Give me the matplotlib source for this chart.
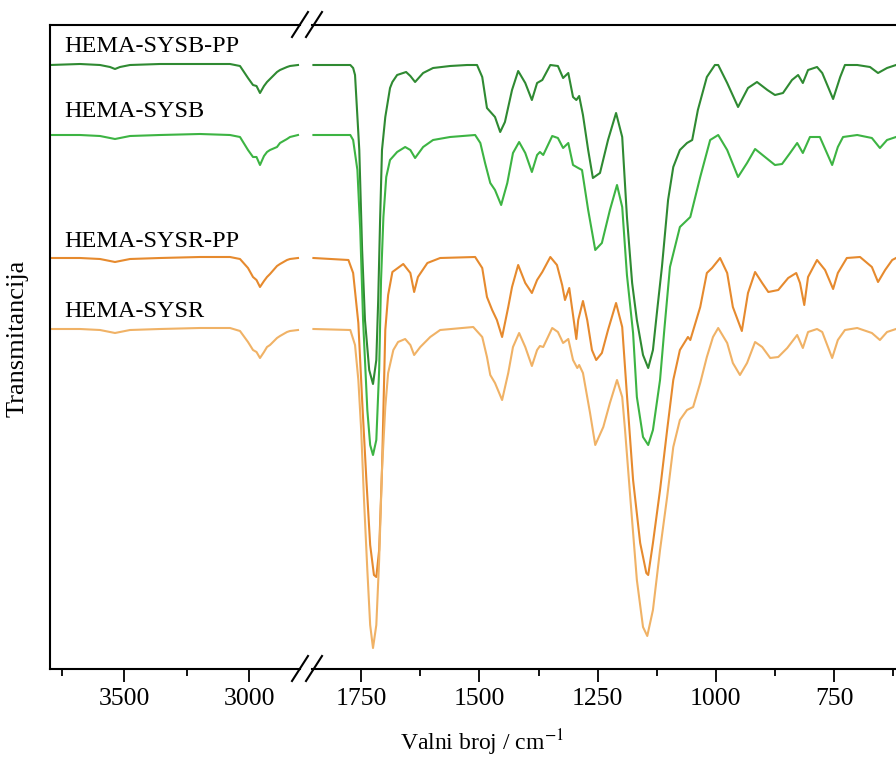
import matplotlib
matplotlib.use('Agg')
import matplotlib.pyplot as plt
from matplotlib.ticker import MultipleLocator
from matplotlib.lines import Line2D

plt.rcParams['font.family'] = ['Liberation Serif', 'DejaVu Serif']
plt.rcParams['mathtext.fontset'] = 'stix'

# --- data (wavenumber in cm-1, transmittance in arbitrary offset units) ---
# high-wavenumber region, shared grid
wn_high = [3796, 3676, 3596, 3556, 3536, 3516, 3476, 3356, 3196, 3076, 3036,
           3004, 2984, 2970, 2956, 2940, 2928, 2916, 2888, 2876, 2848, 2836, 2804]
sysb_pp_high = [604, 605, 604, 602, 600, 602, 604, 605, 605, 605, 603,
                591, 584, 583, 576, 583, 587, 590, 597, 599, 602, 603, 604]
sysb_high = [534, 534, 533, 531, 530, 531, 533, 534, 535, 534, 532,
             519, 512, 512, 504, 513, 517, 519, 522, 526, 530, 532, 534]
sysr_pp_high = [411, 411, 410, 408, 407, 408, 410, 411, 412, 412, 410,
                401, 392, 389, 382, 388, 392, 395, 403, 405, 409, 410, 411]
sysr_high = [340, 340, 339, 337, 336, 337, 339, 340, 341, 341, 338,
             327, 319, 317, 311, 317, 322, 324, 331, 333, 337, 338, 339]

# fingerprint region
wn_sysb_pp = [1851, 1773, 1767, 1763, 1754, 1748, 1742, 1733, 1725, 1718, 1714,
              1710, 1706, 1699, 1689, 1684, 1674, 1655, 1646, 1636, 1619, 1598,
              1562, 1526, 1505, 1494, 1484, 1467, 1456, 1446, 1431, 1418, 1403,
              1389, 1378, 1367, 1350, 1334, 1323, 1312, 1302, 1295, 1289, 1281,
              1270, 1260, 1245, 1228, 1211, 1198, 1188, 1177, 1167, 1154, 1143,
              1133, 1124, 1114, 1101, 1090, 1076, 1061, 1050, 1038, 1019, 1002,
              995, 976, 953, 932, 913, 891, 875, 858, 839, 826, 816, 805, 786,
              775, 752, 737, 727, 701, 674, 657, 638, 619]
sysb_pp_low = [604, 604, 601, 594, 519, 419, 349, 299, 285, 309, 369,
               449, 519, 552, 581, 587, 594, 597, 593, 587, 596, 601,
               603, 604, 604, 592, 561, 552, 537, 547, 579, 598, 586,
               569, 586, 589, 604, 603, 591, 596, 572, 569, 573, 554,
               519, 491, 496, 529, 556, 532, 452, 386, 349, 314, 301,
               319, 359, 402, 469, 502, 519, 526, 529, 559, 592, 604,
               604, 586, 562, 581, 587, 579, 574, 576, 589, 594, 586, 599, 602,
               596, 570, 592, 604, 604, 602, 596, 601, 604]

wn_sysb = [1851, 1773, 1767, 1758, 1752, 1746, 1737, 1731, 1725, 1718, 1712,
           1708, 1703, 1697, 1689, 1674, 1657, 1646, 1636, 1619, 1598, 1562,
           1509, 1498, 1488, 1477, 1467, 1454, 1441, 1429, 1416, 1403, 1389,
           1378, 1372, 1365, 1346, 1334, 1323, 1312, 1302, 1291, 1283, 1270,
           1255, 1241, 1224, 1209, 1198, 1188, 1175, 1167, 1154, 1143, 1133,
           1118, 1109, 1097, 1076, 1054, 1033, 1012, 995, 976, 953, 934, 917,
           896, 875, 860, 843, 828, 816, 801, 780, 754, 742, 731, 701, 670,
           653, 638, 619]
sysb_low = [534, 534, 529, 499, 439, 349, 259, 224, 214, 229, 299,
            389, 452, 492, 509, 517, 522, 519, 511, 522, 529, 532,
            534, 526, 506, 486, 479, 464, 486, 516, 527, 516, 497,
            514, 517, 514, 533, 531, 521, 526, 504, 501, 499, 459,
            419, 426, 459, 484, 462, 394, 336, 272, 232, 224, 239,
            289, 339, 402, 442, 452, 492, 529, 534, 519, 492, 506, 520,
            512, 504, 505, 516, 526, 516, 532, 532, 504, 522, 532, 534, 531,
            521, 529, 532]

wn_sysr_pp = [1851, 1777, 1767, 1756, 1748, 1739, 1731, 1723, 1718, 1712, 1706,
              1699, 1693, 1684, 1661, 1646, 1638, 1630, 1610, 1583, 1509, 1494,
              1484, 1473, 1463, 1452, 1439, 1431, 1418, 1403, 1389, 1378, 1367,
              1350, 1336, 1325, 1319, 1310, 1302, 1295, 1291, 1281, 1272, 1262,
              1253, 1241, 1228, 1211, 1198, 1188, 1175, 1160, 1147, 1143, 1133,
              1118, 1103, 1090, 1076, 1059, 1054, 1033, 1019, 1008, 991, 976,
              964, 945, 932, 917, 902, 889, 868, 847, 830, 822, 813, 805, 786,
              769, 752, 742, 723, 695, 670, 657, 642, 627, 619]
sysr_pp_low = [411, 409, 396, 346, 269, 189, 124, 94, 92, 119, 199,
               339, 374, 397, 405, 396, 377, 392, 406, 411, 412, 401,
               372, 359, 349, 332, 362, 382, 404, 386, 376, 389, 397,
               412, 404, 384, 369, 381, 354, 330, 349, 368, 349, 319,
               309, 316, 339, 366, 342, 274, 189, 126, 96, 94, 126,
               179, 239, 289, 319, 332, 329, 362, 396, 401, 411, 396,
               362, 338, 376, 397, 386, 377, 379, 391, 396, 386, 364, 392, 409,
               399, 380, 396, 411, 412, 402, 387, 399, 409, 411]

wn_sysr = [1851, 1773, 1763, 1756, 1750, 1744, 1737, 1731, 1725, 1718, 1712,
           1706, 1699, 1693, 1682, 1672, 1657, 1646, 1638, 1625, 1604, 1583,
           1513, 1494, 1484, 1477, 1467, 1452, 1439, 1429, 1416, 1403, 1389,
           1378, 1372, 1365, 1346, 1334, 1323, 1312, 1302, 1293, 1289, 1281,
           1266, 1255, 1238, 1224, 1209, 1198, 1192, 1181, 1167, 1154, 1145,
           1133, 1118, 1103, 1090, 1076, 1061, 1048, 1033, 1019, 1006, 995,
           976, 964, 949, 934, 917, 902, 885, 868, 849, 828, 816, 805, 786,
           775, 754, 742, 727, 701, 670, 653, 638, 619]
sysr_low = [340, 339, 324, 289, 239, 169, 99, 44, 21, 44, 109,
            199, 262, 296, 319, 327, 330, 324, 314, 322, 332, 339,
            342, 332, 312, 294, 286, 269, 296, 322, 336, 322, 303,
            319, 323, 322, 341, 337, 326, 330, 309, 301, 304, 296,
            256, 224, 242, 266, 289, 272, 239, 172, 89, 42, 33,
            59, 119, 172, 222, 249, 259, 262, 286, 312, 332, 341,
            326, 306, 294, 306, 327, 322, 311, 312, 321, 334, 321, 337, 340,
            337, 311, 329, 339, 341, 336, 329, 337, 340]

names = ['HEMA-SYSB-PP', 'HEMA-SYSB', 'HEMA-SYSR-PP', 'HEMA-SYSR']
colors = ['#2f8a32', '#3db443', '#e68a2e', '#f0b266']
label_y = [617, 552, 422, 352]

series = [
    (sysb_pp_high, wn_sysb_pp, sysb_pp_low),
    (sysb_high, wn_sysb, sysb_low),
    (sysr_pp_high, wn_sysr_pp, sysr_pp_low),
    (sysr_high, wn_sysr, sysr_low),
]

W, H = 896, 763
fig = plt.figure(figsize=(W / 100, H / 100), dpi=100)


def box(x0, y0, x1, y1):
    return [x0 / W, 1 - y1 / H, (x1 - x0) / W, (y1 - y0) / H]


ax_l = fig.add_axes(box(50, 25, 300, 669))
ax_r = fig.add_axes(box(312, 25, 896, 669))

for (hi, wn_lo, lo), c in zip(series, colors):
    ax_l.plot(wn_high, hi, color=c, lw=1.5, solid_joinstyle='round')
    ax_r.plot(wn_lo, lo, color=c, lw=1.5, solid_joinstyle='round')

ax_l.set_xlim(3796, 2796)
ax_r.set_xlim(1854, 619)
for ax in (ax_l, ax_r):
    ax.set_ylim(0, 644)
    ax.set_yticks([])
    ax.tick_params(axis='x', which='major', direction='out', length=9,
                   width=1.3, labelsize=18.5, pad=5)
    ax.tick_params(axis='x', which='minor', direction='out', length=5,
                   width=1.3)
    for s in ax.spines.values():
        s.set_linewidth(1.5)

ax_l.xaxis.set_major_locator(MultipleLocator(500))
ax_l.xaxis.set_minor_locator(MultipleLocator(250))
ax_r.xaxis.set_major_locator(MultipleLocator(250))
ax_r.xaxis.set_minor_locator(MultipleLocator(125))

ax_l.spines['right'].set_visible(False)
ax_r.spines['left'].set_visible(False)
ax_r.spines['right'].set_visible(False)

for name, yv in zip(names, label_y):
    ax_l.text(3740, yv, name, fontsize=17.5, va='baseline', ha='left')

# axis break marks
for yb in (25, 669):
    for dx in (0, 14):
        fig.add_artist(Line2D([(292 + dx) / W, (308 + dx) / W],
                              [1 - (yb + 12) / H, 1 - (yb - 13) / H],
                              color='black', lw=1.5))

fig.text(482 / W, 1 - 750 / H, r'Valni broj / cm$^{-1}$', fontsize=17,
         ha='center', va='baseline')
fig.text(18 / W, 1 - 338 / H, 'Transmitancija', fontsize=19,
         rotation=90, ha='center', va='center')

fig.savefig('out.png', dpi=100)
